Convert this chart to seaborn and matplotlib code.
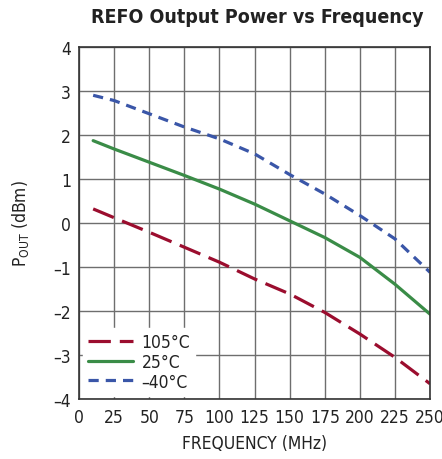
import matplotlib
matplotlib.use("Agg")
import matplotlib.pyplot as plt
import seaborn as sns
import pandas as pd

freq = [10, 25, 50, 75, 100, 125, 150, 175, 200, 225, 250]
p_105 = [0.32, 0.12, -0.21, -0.55, -0.89, -1.27, -1.61, -2.03, -2.52, -3.05, -3.65]
p_25 = [1.87, 1.68, 1.38, 1.08, 0.77, 0.43, 0.05, -0.33, -0.78, -1.39, -2.07]
p_m40 = [2.9, 2.78, 2.48, 2.18, 1.91, 1.57, 1.1, 0.66, 0.17, -0.36, -1.12]
series = ["105°C", "25°C", "\u201340°C"]
colors = ["#9b0d2e", "#3a8c47", "#3a56a8"]
dashes = [(7, 2.8), "", (3.2, 2.2)]

xticks = [0, 25, 50, 75, 100, 125, 150, 175, 200, 225, 250]
yticks = [-4, -3, -2, -1, 0, 1, 2, 3, 4]

sns.set_theme(style="white")
plt.rcParams["font.family"] = ["DejaVu Sans"]
plt.rcParams["font.stretch"] = "condensed"

df = pd.DataFrame({
    "freq": freq * 3,
    "p": p_105 + p_25 + p_m40,
    "T": [series[0]] * len(freq) + [series[1]] * len(freq) + [series[2]] * len(freq),
})

fig = plt.figure(figsize=(4.42, 4.60), dpi=100)
ax = fig.add_axes([0.179, 0.130, 0.794, 0.766])

sns.lineplot(data=df, x="freq", y="p", hue="T", style="T", hue_order=series,
             style_order=series, palette=colors, dashes=dict(zip(series, dashes)),
             linewidth=2.3, ax=ax, legend=True)

ax.set_xlim(0, 250)
ax.set_ylim(-4, 4)
ax.set_xticks(xticks)
ax.set_yticks(yticks)
ax.set_xticklabels([str(t) for t in xticks])
ax.set_yticklabels([str(t).replace("-", "\u2013") for t in yticks])
ax.grid(True, color="#6e6e6e", linewidth=1.0)
ax.set_axisbelow(True)
for s in ax.spines.values():
    s.set_color("#333333")
    s.set_linewidth(1.2)
ax.tick_params(axis="both", labelsize=12.5, colors="#222222", length=0, pad=6)

ax.set_xlabel("FREQUENCY (MHz)", fontsize=12.5, color="#222222", labelpad=6)
ax.set_ylabel(r"P$_{\mathrm{OUT}}$ (dBm)", fontsize=12.5, color="#222222", labelpad=16)
fig.text(0.581, 0.962, "REFO Output Power vs Frequency", ha="center", va="center",
         fontsize=14, fontweight="bold", color="#222222")

leg = ax.legend(loc="lower left", frameon=True, fontsize=12.5, handlelength=2.6,
                handletextpad=0.5, labelspacing=0.1, borderpad=0.3,
                borderaxespad=0.2, bbox_to_anchor=(0.0, 0.0))
leg.get_frame().set_facecolor("white")
leg.get_frame().set_edgecolor("white")
leg.get_frame().set_alpha(1)
leg.get_frame().set_boxstyle("square", pad=0.0)
for t in leg.get_texts():
    t.set_color("#222222")

fig.savefig("out.png", dpi=100, facecolor="white")
